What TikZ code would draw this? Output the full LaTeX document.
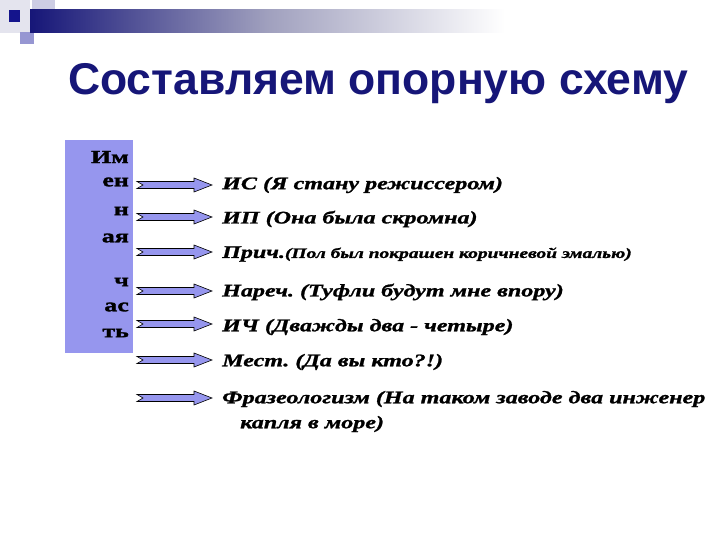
\documentclass[tikz,border=0pt]{standalone}
\usepackage{fontspec}
\setmainfont{Liberation Serif}
\newfontfamily\titlefont{Liberation Sans}
\newfontfamily\bookfont[FakeStretch=1.36,FakeBold=1.3]{Liberation Serif}
\newfontfamily\sidefont[FakeStretch=1.4,FakeBold=1.6]{Liberation Serif}
\frenchspacing
\definecolor{navy}{RGB}{22,22,120}
\definecolor{peri}{RGB}{150,150,238}
\definecolor{sqlight}{RGB}{228,228,238}
\definecolor{sqmid}{RGB}{205,205,228}
\definecolor{sqblue}{RGB}{150,150,210}
\definecolor{sqdark}{RGB}{20,20,140}
\tikzset{
  fatarrow/.pic={
    \filldraw[fill=peri,draw=black,line width=0.6pt,line join=miter]
      (0,-3.5) -- (57,-3.5) -- (57,-7) -- (75,0) -- (57,7) -- (57,3.5)
      -- (0,3.5) -- (6,0) -- cycle;
  },
  itemtext/.style={anchor=west,inner sep=0pt,font=\bookfont\bfseries\itshape\fontsize{17.7}{20}\selectfont},
  sidetext/.style={anchor=east,inner sep=0pt,font=\sidefont\bfseries\fontsize{18.5}{20}\selectfont},
}
\begin{document}
\begin{tikzpicture}[x=1pt,y=-1pt]
\useasboundingbox (0,0) rectangle (720,540);
\fill[white] (0,0) rectangle (720,540);
% top decoration
\fill[sqlight] (0,0) rectangle (30,33);
\fill[sqmid] (32,0) rectangle (55,22);
\fill[sqblue] (20,32) rectangle (34,44);
\shade[left color=navy, right color=white, middle color={rgb,255:red,160;green,160;blue,190}] (30,10) rectangle (505,33);
\fill[sqdark] (9,10) rectangle (20,22);
% title
\node[anchor=base west,inner sep=0pt,text=navy,font=\titlefont\bfseries\fontsize{44.5}{50}\selectfont] (title) at (68,95) {Составляем опорную схему};
% side box
\fill[peri] (65,140) rectangle (133,353);
\node[sidetext] (s1) at (129,157) {Им};
\node[sidetext] (s2) at (129,182) {ен};
\node[sidetext] (s3) at (129,211) {н};
\node[sidetext] (s4) at (129,238) {ая};
\node[sidetext] (s5) at (129,282) {ч};
\node[sidetext] (s6) at (129,307) {ас};
\node[sidetext] (s7) at (129,333) {ть};
% items
\node[itemtext] (t1) at (222,185) {ИС (Я стану режиссером)};
\node[itemtext] (t2) at (222,219) {ИП (Она была скромна)};
\node[itemtext] (t3) at (222,254) {Прич.{\fontsize{14.3}{15}\selectfont(Пол был покрашен коричневой эмалью)}};
\node[itemtext] (t4) at (222,292) {Нареч. (Туфли будут мне впору)};
\node[itemtext] (t5) at (222,327) {ИЧ (Дважды два - четыре)};
\node[itemtext] (t6) at (222,362) {Мест. (Да вы кто?!)};
\node[itemtext] (t7) at (222,399) {Фразеологизм (На таком заводе два инженер};
\node[itemtext] (t8) at (240,424) {капля в море)};
% arrows
\coordinate (a1) at (137,185);
\coordinate (a2) at (137,217);
\coordinate (a3) at (137,252);
\coordinate (a4) at (137,291);
\coordinate (a5) at (137,324);
\coordinate (a6) at (137,360);
\coordinate (a7) at (137,398);
\foreach \i in {1,...,7} { \pic at (a\i) {fatarrow}; }
\end{tikzpicture}
\end{document}
